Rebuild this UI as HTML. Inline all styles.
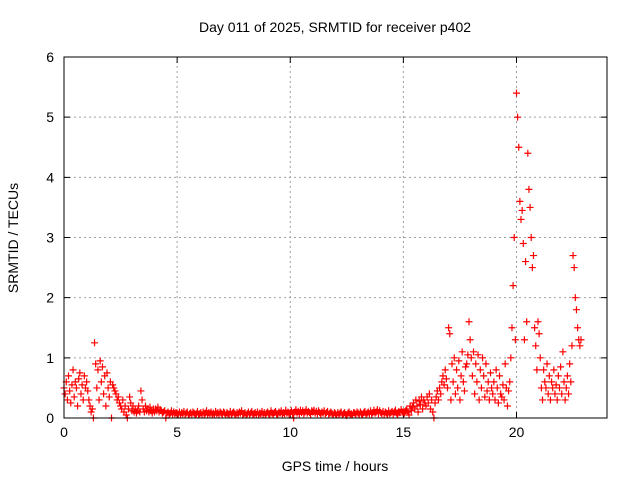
<!DOCTYPE html>
<html><head><meta charset="utf-8"><style>
body{margin:0;background:#fff;}
svg{display:block;font-family:"Liberation Sans",sans-serif;}
</style></head><body>
<svg id="chart" width="640" height="480">
<text x="335" y="32" text-anchor="middle" font-size="14">Day 011 of 2025, SRMTID for receiver p402</text>
<text x="335" y="471" text-anchor="middle" font-size="14">GPS time / hours</text>
<text transform="translate(18,238) rotate(-90)" text-anchor="middle" font-size="14">SRMTID / TECUs</text>
<g id="grid"></g><g id="ticks"></g><g id="marks"></g>
<rect x="64" y="57" width="543" height="361" fill="none" stroke="#000" stroke-width="1"/>
</svg>
<script>
const xTicks=[0,5,10,15,20];
const yTicks=[0,1,2,3,4,5,6];
const sampleStep=0.05;
const tec=[
0.5,0.4,0.6,0.3,0.7,0.45,0.25,0.55,0.8,0.35,0.6,0.5,0.2,0.65,0.75,0.4,0.55,0.3,0.7,0.5,
0.6,0.45,0.3,0.2,0.1,0.15,0.0,1.25,0.9,0.5,0.8,0.3,0.95,0.6,0.85,0.4,0.7,0.2,0.75,0.5,
0.35,0.6,0.0,0.55,0.5,0.45,0.4,0.3,0.35,0.25,0.2,0.15,0.3,0.1,0.2,0.05,0.0,0.15,0.35,0.25,
0.12,0.2,0.1,0.15,0.08,0.12,0.2,0.1,0.45,0.3,0.15,0.1,0.2,0.12,0.15,0.1,0.18,0.12,0.08,0.15,
0.1,0.15,0.12,0.18,0.1,0.14,0.12,0.08,0.1,0.12,0.0,0.08,0.1,0.05,0.08,0.12,0.06,0.1,0.07,0.09,
0.08,0.06,0.1,0.05,0.09,0.07,0.11,0.06,0.08,0.1,0.05,0.07,0.09,0.06,0.1,0.08,0.05,0.07,0.11,0.06,
0.07,0.09,0.05,0.1,0.06,0.08,0.12,0.05,0.09,0.07,0.1,0.06,0.08,0.05,0.11,0.07,0.09,0.06,0.1,0.08,
0.06,0.1,0.08,0.05,0.09,0.07,0.05,0.11,0.06,0.08,0.1,0.07,0.05,0.09,0.06,0.1,0.08,0.12,0.06,0.07,
0.09,0.05,0.07,0.1,0.06,0.08,0.11,0.05,0.07,0.09,0.06,0.1,0.05,0.08,0.07,0.11,0.06,0.09,0.05,0.08,
0.1,0.07,0.05,0.12,0.08,0.06,0.09,0.11,0.07,0.05,0.1,0.08,0.12,0.06,0.09,0.07,0.13,0.08,0.1,0.06,
0.09,0.12,0.07,0.0,0.1,0.14,0.08,0.11,0.06,0.13,0.09,0.12,0.07,0.1,0.14,0.08,0.11,0.09,0.06,0.12,
0.1,0.13,0.08,0.11,0.07,0.12,0.09,0.06,0.1,0.08,0.12,0.07,0.09,0.11,0.06,0.08,0.1,0.07,0.05,0.09,
0.07,0.05,0.09,0.06,0.08,0.1,0.05,0.07,0.09,0.06,0.04,0.08,0.1,0.06,0.07,0.05,0.09,0.08,0.06,0.1,
0.08,0.06,0.1,0.07,0.05,0.09,0.11,0.06,0.08,0.1,0.07,0.12,0.06,0.09,0.13,0.08,0.1,0.14,0.07,0.12,
0.09,0.07,0.11,0.06,0.1,0.08,0.05,0.12,0.07,0.09,0.11,0.06,0.1,0.13,0.08,0.05,0.11,0.09,0.14,0.1,
0.1,0.08,0.12,0.15,0.1,0.05,0.2,0.12,0.18,0.25,0.15,0.3,0.2,0.1,0.28,0.22,0.35,0.15,0.3,0.25,
0.2,0.35,0.25,0.4,0.15,0.3,0.1,0.0,0.25,0.35,0.45,0.3,0.5,0.4,0.6,0.7,0.55,0.8,0.65,0.5,
1.5,1.4,0.3,0.9,0.6,1.0,0.4,0.8,0.5,0.95,0.3,0.7,1.1,0.6,0.45,0.85,0.9,1.05,1.6,1.3,
1.0,0.7,1.1,0.4,0.9,0.6,1.05,0.3,0.8,0.5,1.0,0.7,0.35,0.9,0.45,0.6,0.3,0.75,0.5,0.4,
0.6,0.3,0.8,0.5,0.25,0.7,0.4,0.35,0.55,0.3,0.9,0.5,0.2,0.45,0.6,1.0,1.5,2.2,3.0,1.3,
5.4,5.0,4.5,3.6,3.3,3.45,2.9,1.3,2.6,1.6,4.4,3.8,3.5,3.0,2.5,2.7,1.5,1.2,0.8,1.6,
1.4,1.0,0.5,0.3,0.8,0.6,0.5,0.9,0.4,0.7,0.3,0.6,0.5,0.8,0.4,0.55,0.3,0.7,0.5,0.85,
0.4,1.1,0.6,0.3,0.5,0.7,0.4,0.9,0.6,1.2,2.7,2.5,2.0,1.8,1.5,1.3,1.2,1.3
];
const NS='http://www.w3.org/2000/svg';
const X0=64,X1=607,Y0=418,Y1=57,XMAX=24,YMAX=6;
function xs(v){return X0+(X1-X0)*v/XMAX;}
function ys(v){return Y0-(Y0-Y1)*v/YMAX;}
function mk(tag,attrs,parent){const e=document.createElementNS(NS,tag);for(const k in attrs)e.setAttribute(k,attrs[k]);parent.appendChild(e);return e;}
const grid=document.getElementById('grid'),ticks=document.getElementById('ticks'),marks=document.getElementById('marks');
xTicks.forEach(t=>{
  const x=xs(t);
  if(t>0){const g=mk('line',{x1:x,y1:Y0,x2:x,y2:Y1,stroke:'#a0a0a0','stroke-dasharray':'2,3'},grid);
  
  }
  const tk=mk('path',{d:`M${x},${Y0}v-6M${x},${Y1}v6`,stroke:'#000'},ticks);
  
  
  const l=mk('text',{x:x,y:Y0+19,'text-anchor':'middle','font-size':'14'},ticks);l.textContent=t;
  
  
});
yTicks.forEach(t=>{
  const y=ys(t);
  if(t>0&&t<6){const g=mk('line',{x1:X0,y1:y,x2:X1,y2:y,stroke:'#a0a0a0','stroke-dasharray':'2,3'},grid);
  
  }
  const tk=mk('path',{d:`M${X0},${y}h6M${X1},${y}h-6`,stroke:'#000'},ticks);
  
  
  const l=mk('text',{x:X0-10,y:y+5,'text-anchor':'end','font-size':'14'},ticks);l.textContent=t;
  
  
});
let d='';
tec.forEach((v,i)=>{
  if(v==null)return;
  const x=xs(i*sampleStep),y=ys(v);
  d+=`M${x-3.5},${y}h7M${x},${y-3.5}v7`;
});
const p=mk('path',{d:d,stroke:'#ff0000','stroke-width':'1.2',fill:'none'},marks);


</script>
</body></html>
